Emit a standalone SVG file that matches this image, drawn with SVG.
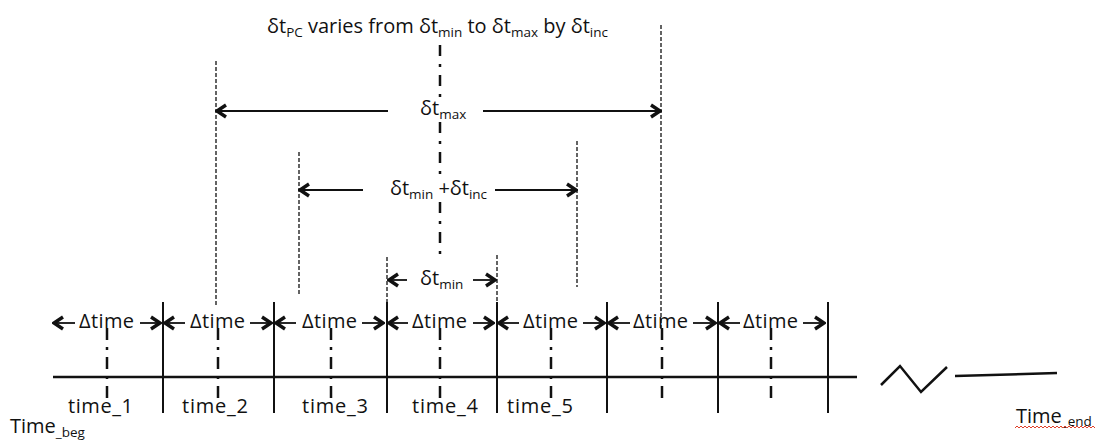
<svg xmlns="http://www.w3.org/2000/svg" width="1097" height="440" viewBox="0 0 1097 440">
<style>
text{font-family:"Open Sans","Liberation Sans",sans-serif;font-size:20px;fill:#111}
.sub{font-size:13.5px}
.solid{stroke:#111;stroke-width:2;fill:none}
.axis{stroke:#111;stroke-width:2.5;fill:none}
.fine{stroke:#222;stroke-width:1.4;stroke-dasharray:4 2;fill:none}
.dd{stroke:#111;stroke-width:2.5;stroke-dasharray:12 7 3 7;fill:none}
.arr{stroke:#111;stroke-width:1.8;fill:none;marker-end:url(#ah)}
</style>
<defs>
<marker id="ah" markerUnits="userSpaceOnUse" viewBox="-12 -8 14 16" refX="0" refY="0" markerWidth="14" markerHeight="16" orient="auto">
<path d="M-9,-6 L0,0 L-9,6" fill="none" stroke="#111" stroke-width="3.4" stroke-linejoin="miter"/>
</marker>
</defs>

<g id="connectors">
<line class="axis" x1="53" y1="377" x2="857" y2="377"/>
<polyline class="axis" points="881,385 900,366 921,392 947,367"/>
<line class="axis" x1="955" y1="376" x2="1057" y2="373"/>
<line class="solid" x1="163" y1="302" x2="163" y2="413"/>
<line class="solid" x1="274" y1="302" x2="274" y2="413"/>
<line class="solid" x1="387" y1="302" x2="387" y2="413"/>
<line class="solid" x1="497" y1="302" x2="497" y2="413"/>
<line class="solid" x1="607" y1="302" x2="607" y2="413"/>
<line class="solid" x1="718" y1="302" x2="718" y2="413"/>
<line class="solid" x1="828" y1="302" x2="828" y2="413"/>
<line class="dd" x1="107" y1="328" x2="107" y2="405"/>
<line class="dd" x1="218" y1="328" x2="218" y2="405"/>
<line class="dd" x1="331" y1="328" x2="331" y2="405"/>
<line class="dd" x1="440" y1="328" x2="440" y2="405"/>
<line class="dd" x1="551" y1="328" x2="551" y2="405"/>
<line class="dd" x1="662" y1="328" x2="662" y2="405"/>
<line class="dd" x1="771" y1="328" x2="771" y2="405"/>
<line class="dd" style="stroke-dasharray:11 8 3 8" x1="440" y1="45" x2="440" y2="100"/>
<line class="dd" style="stroke-dasharray:11 8 3 8" x1="440" y1="122" x2="440" y2="178"/>
<line class="dd" style="stroke-dasharray:11 8 3 8" x1="440" y1="202" x2="440" y2="255"/>
<line class="fine" x1="216" y1="61" x2="216" y2="307"/>
<line class="fine" x1="661" y1="25" x2="661" y2="330"/>
<line class="fine" x1="299" y1="152" x2="299" y2="295"/>
<line class="fine" x1="577" y1="141" x2="577" y2="287"/>
<line class="fine" x1="387" y1="257" x2="387" y2="302"/>
<line class="fine" x1="497" y1="255" x2="497" y2="302"/>
<line class="arr" x1="388" y1="111" x2="217" y2="111"/>
<line class="arr" x1="483" y1="111" x2="660" y2="111"/>
<line class="arr" x1="363" y1="190" x2="300" y2="190"/>
<line class="arr" x1="495" y1="190" x2="576" y2="190"/>
<line class="arr" x1="407" y1="280" x2="389" y2="280"/>
<line class="arr" x1="473" y1="280" x2="495" y2="280"/>
<line class="arr" x1="75" y1="323" x2="54" y2="323"/>
<line class="arr" x1="140" y1="323" x2="160" y2="323"/>
<line class="arr" x1="185" y1="323" x2="165" y2="323"/>
<line class="arr" x1="250" y1="323" x2="271" y2="323"/>
<line class="arr" x1="296" y1="323" x2="276" y2="323"/>
<line class="arr" x1="362" y1="323" x2="383" y2="323"/>
<line class="arr" x1="408" y1="323" x2="389" y2="323"/>
<line class="arr" x1="473" y1="323" x2="493" y2="323"/>
<line class="arr" x1="519" y1="323" x2="499" y2="323"/>
<line class="arr" x1="583" y1="323" x2="604" y2="323"/>
<line class="arr" x1="630" y1="323" x2="609" y2="323"/>
<line class="arr" x1="693" y1="323" x2="715" y2="323"/>
<line class="arr" x1="740" y1="323" x2="720" y2="323"/>
<line class="arr" x1="803" y1="323" x2="824" y2="323"/>
</g>

<g id="title">
<text x="267" y="33" textLength="341">δt<tspan class="sub" dy="4">PC</tspan><tspan dy="-4"> varies from δt</tspan><tspan class="sub" dy="4">min</tspan><tspan dy="-4"> to δt</tspan><tspan class="sub" dy="4">max</tspan><tspan dy="-4"> by δt</tspan><tspan class="sub" dy="4">inc</tspan></text>
</g>
<g id="label-max"><text x="420" y="115">δt<tspan class="sub" dy="4">max</tspan></text></g>
<g id="label-mininc"><text x="390" y="195" textLength="97">δt<tspan class="sub" dy="4">min</tspan><tspan dy="-4"> +δt</tspan><tspan class="sub" dy="4">inc</tspan></text></g>
<g id="label-min"><text x="420" y="285">δt<tspan class="sub" dy="4">min</tspan></text></g>

<g id="dtime-labels">
<text x="79" y="328" textLength="55">Δtime</text>
<text x="190" y="328" textLength="55">Δtime</text>
<text x="302" y="328" textLength="55">Δtime</text>
<text x="412" y="328" textLength="55">Δtime</text>
<text x="523" y="328" textLength="55">Δtime</text>
<text x="633" y="328" textLength="55">Δtime</text>
<text x="743" y="328" textLength="55">Δtime</text>
</g>

<g id="time-labels">
<text x="68" y="413" textLength="65">time_1</text>
<text x="182" y="413" textLength="66">time_2</text>
<text x="302" y="413" textLength="66">time_3</text>
<text x="412" y="413" textLength="66">time_4</text>
<text x="507" y="413" textLength="66">time_5</text>
</g>

<g id="time-beg"><text x="10" y="433">Time<tspan class="sub" dy="4">_beg</tspan></text></g>
<g id="time-end">
<text x="1016" y="423">Time<tspan class="sub" dy="3">_end</tspan></text>
<path d="M1015,428 l2,-2 l2,2 l2,-2 l2,2 l2,-2 l2,2 l2,-2 l2,2 l2,-2 l2,2 l2,-2 l2,2 l2,-2 l2,2 l2,-2 l2,2 l2,-2 l2,2 l2,-2 l2,2 l2,-2 l2,2 l2,-2 l2,2 l2,-2 l2,2 l2,-2 l2,2 l2,-2 l2,2 l2,-2 l2,2 l2,-2 l2,2 l2,-2 l2,2 l2,-2 l2,2 l2,-2 l2,2" fill="none" stroke="#e0402a" stroke-width="1"/>
</g>
</svg>
